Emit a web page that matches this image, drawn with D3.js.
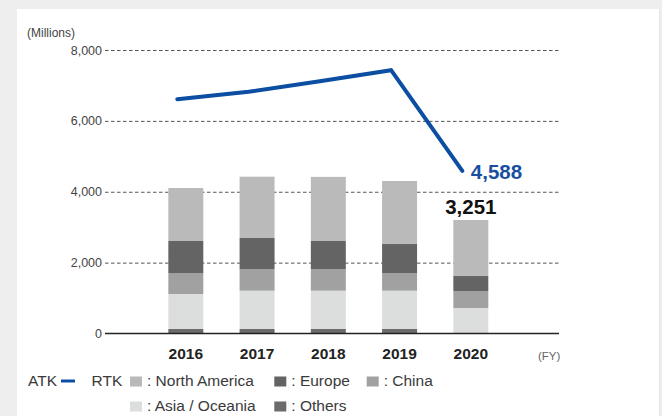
<!DOCTYPE html>
<html><head><meta charset="utf-8">
<script src="https://cdn.jsdelivr.net/npm/d3@7"></script>
<style>
html,body{margin:0;padding:0;background:#eeeeee;}
svg{display:block;font-family:"Liberation Sans",Arial,Helvetica,sans-serif;}
</style></head>
<body><svg id="c" width="662" height="416"></svg>
<script>
const years = ["2016","2017","2018","2019","2020"];
const others = [127, 127, 127, 127, 0];
const asiaOceania = [988, 1081, 1081, 1081, 720];
const china = [592, 612, 612, 499, 479];
const europe = [903, 875, 790, 818, 423];
const northAmerica = [1496, 1730, 1810, 1778, 1581];
const atk = [6610, 6820, 7120, 7430, 4588];
const yTicks = [0, 2000, 4000, 6000, 8000];
const seriesNames = ["Others", "Asia / Oceania", "China", "Europe", "North America"];
const seriesValues = [others, asiaOceania, china, europe, northAmerica];
const seriesColors = ["#6b6b6b", "#dcdedd", "#a0a1a0", "#646464", "#bababa"];
const atkLabel = "4,588";
const rtkLabel = "3,251";

const svg = d3.select("#c");
svg.append("rect").attr("x",17).attr("y",9).attr("width",643).attr("height",407).attr("fill","#fff");
svg.append("line").attr("x1",659.5).attr("x2",659.5).attr("y1",9).attr("y2",416).attr("stroke","#e4e4e4").attr("stroke-width",1);

const x = d3.scaleBand().domain(years).range([150.2, 506.45]).paddingInner(0.509).paddingOuter(0.2545);
const y = d3.scaleLinear().domain([0, 8000]).range([333.5, 50]);

// grid + y axis
const yAxis = d3.axisLeft(y).tickValues(yTicks).tickFormat(d3.format(",")).tickSizeInner(-455).tickSizeOuter(0).tickPadding(3);
const gy = svg.append("g").attr("transform","translate(105,0)").call(yAxis);
gy.select(".domain").remove();
gy.selectAll(".tick line").attr("stroke","#555").attr("stroke-width",1).attr("stroke-dasharray","3.5,2.5")
  .filter(d => d === 0).remove();
gy.selectAll(".tick text").attr("fill","#444").style("font-size","12.5px");

svg.append("text").attr("x",27).attr("y",37).attr("fill","#444").style("font-size","12px").text("(Millions)");

// stacked bars
const table = years.map((yr,i) => {
  const o = {year: yr};
  seriesNames.forEach((s,j) => o[s] = seriesValues[j][i]);
  return o;
});
const stack = d3.stack().keys(seriesNames)(table);
svg.append("g").selectAll("g").data(stack).join("g")
  .attr("fill",(d,i) => seriesColors[i])
  .selectAll("rect").data(d => d).join("rect")
  .attr("x", d => x(d.data.year))
  .attr("width", x.bandwidth())
  .attr("y", d => y(d[1]))
  .attr("height", d => y(d[0]) - y(d[1]));

// baseline
svg.append("line").attr("x1",105).attr("x2",559).attr("y1",y(0)).attr("y2",y(0)).attr("stroke","#222").attr("stroke-width",1.4);

// x labels
svg.append("g").selectAll("text").data(years).join("text")
  .attr("x", d => x(d) + x.bandwidth()/2).attr("y", 358.5)
  .attr("text-anchor","middle").attr("fill","#222").style("font-size","15.5px").style("font-weight","bold")
  .text(d => d);
svg.append("text").attr("x",538).attr("y",360).attr("fill","#666").style("font-size","11.5px").text("(FY)");

// ATK line
const lineOffset = 9;
const line = d3.line().x((d,i) => x(years[i]) + lineOffset).y(d => y(d));
svg.append("path").datum(atk).attr("d", line).attr("fill","none").attr("stroke","#0b4ea2")
  .attr("stroke-width",4).attr("stroke-linecap","round").attr("stroke-linejoin","miter");

// value labels
const last = years.length - 1;
svg.append("text").attr("x", x(years[last]) + 17.5).attr("y", 179).attr("fill","#1a4fa0")
  .style("font-size","20.5px").style("font-weight","bold").text(atkLabel);
svg.append("text").attr("x", x(years[last]) + x.bandwidth()/2).attr("y", 214).attr("text-anchor","middle").attr("fill","#111")
  .style("font-size","20.5px").style("font-weight","bold").text(rtkLabel);

// legend
const lg = svg.append("g").style("font-size","15.5px").attr("fill","#3a3a3a");
lg.append("text").attr("x",28).attr("y",386).text("ATK");
lg.append("line").attr("x1",61).attr("x2",75).attr("y1",381).attr("y2",381).attr("stroke","#0b4ea2").attr("stroke-width",3);
lg.append("text").attr("x",91.5).attr("y",386).text("RTK");
const legendPos = {
  "North America": [130, 376.5],
  "Europe": [274.3, 376.5],
  "China": [366.7, 376.5],
  "Asia / Oceania": [130, 401.5],
  "Others": [274.3, 401.5]
};
seriesNames.forEach((s,i) => {
  const p = legendPos[s];
  lg.append("rect").attr("x",p[0]).attr("y",p[1]).attr("width",12).attr("height",10).attr("fill",seriesColors[i]);
  lg.append("text").attr("x",p[0]+17).attr("y",p[1]+9.7).text(": " + s);
});
</script></body></html>
